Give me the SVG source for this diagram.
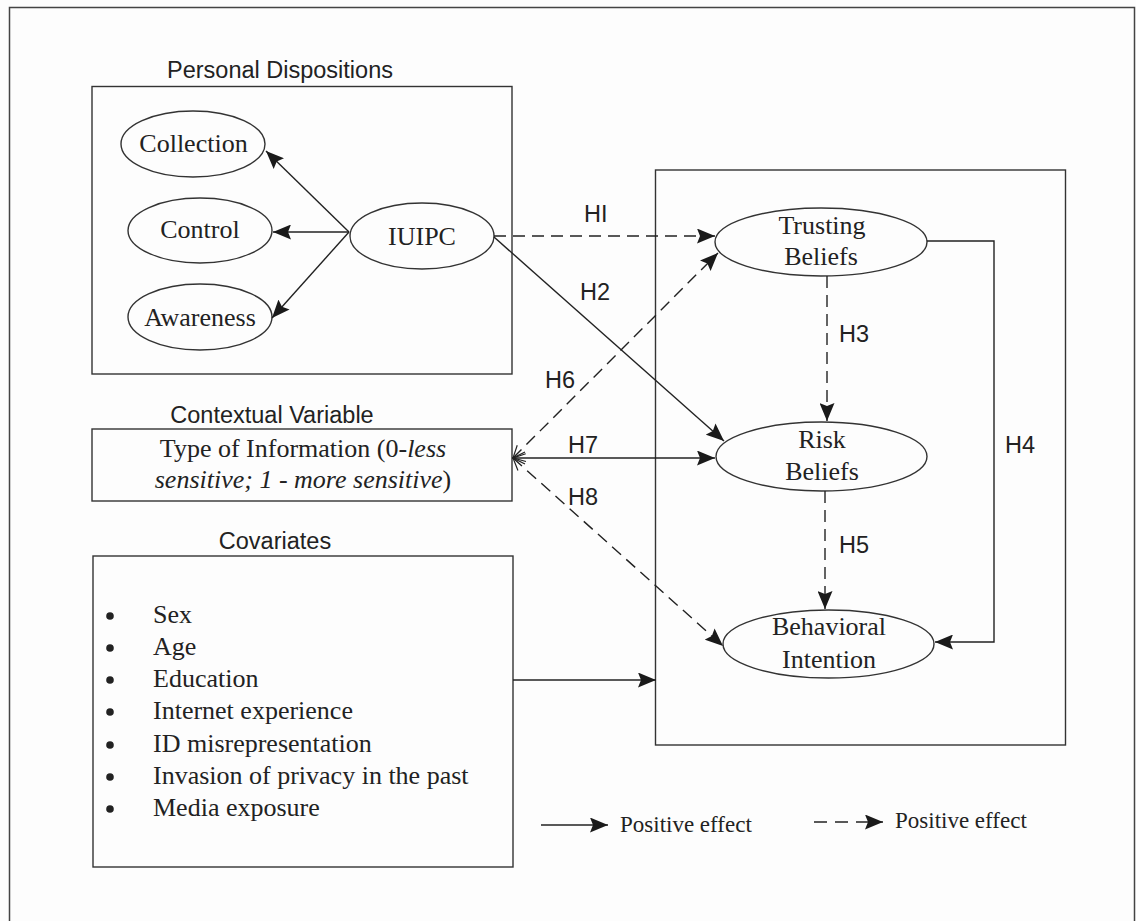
<svg xmlns="http://www.w3.org/2000/svg" width="1136" height="921" viewBox="0 0 1136 921">
<defs>
<style>
.bg{fill:#fdfdfd}
.frame{fill:none;stroke:#444;stroke-width:1.5}
.box{fill:none;stroke:#333;stroke-width:1.4}
.ell{fill:#fdfdfd;stroke:#333;stroke-width:1.4}
.ln{fill:none;stroke:#222;stroke-width:1.4}
.dash{fill:none;stroke:#222;stroke-width:1.4;stroke-dasharray:12 7}
.serif{font-family:"Liberation Serif","Times New Roman",serif;font-size:26px;fill:#222}
.sans{font-family:"Liberation Sans",Arial,sans-serif;font-size:23.5px;fill:#222}
.leg{font-family:"Liberation Serif","Times New Roman",serif;font-size:23px;fill:#222}
.mid{text-anchor:middle}
</style>
<marker id="ah" markerUnits="userSpaceOnUse" viewBox="0 0 18 15" refX="18" refY="7.5" markerWidth="18" markerHeight="15" orient="auto">
<path d="M0,0 L18,7.5 L0,15 L3,7.5 z" fill="#1a1a1a"/>
</marker>
<marker id="ao" markerUnits="userSpaceOnUse" viewBox="0 0 14 14" refX="1" refY="7" markerWidth="14" markerHeight="14" orient="auto">
<path d="M13,1 L1,7 L13,13" fill="none" stroke="#222" stroke-width="1.2"/>
</marker>
</defs>
<rect class="bg" x="0" y="0" width="1136" height="921"/>
<rect class="frame" x="9.5" y="7.5" width="1125" height="930"/>

<g id="personal-dispositions">
<text class="sans mid" x="280" y="78">Personal Dispositions</text>
<rect class="box" x="92" y="86.5" width="420" height="287.5"/>
</g>
<g id="collection">
<ellipse class="ell" cx="193" cy="144" rx="72" ry="33"/>
<text class="serif mid" x="193.5" y="152">Collection</text>
</g>
<g id="control">
<ellipse class="ell" cx="200" cy="230.5" rx="72" ry="32.5"/>
<text class="serif mid" x="200" y="238">Control</text>
</g>
<g id="awareness">
<ellipse class="ell" cx="200" cy="317" rx="72" ry="33"/>
<text class="serif mid" x="200" y="326">Awareness</text>
</g>
<g id="iuipc">
<ellipse class="ell" cx="422" cy="236" rx="72" ry="33"/>
<text class="serif mid" x="422" y="245">IUIPC</text>
</g>

<g id="contextual-variable">
<text class="sans mid" x="272" y="423">Contextual Variable</text>
<rect class="box" x="92" y="429" width="420" height="72"/>
<text class="serif mid" x="303" y="457">Type of Information (0-<tspan font-style="italic">less</tspan></text>
<text class="serif mid" x="303" y="488"><tspan font-style="italic">sensitive; 1 - more sensitive</tspan>)</text>
</g>

<g id="covariates">
<text class="sans mid" x="275" y="549">Covariates</text>
<rect class="box" x="93" y="556" width="420" height="311"/>
<g fill="#222">
<circle cx="110" cy="616" r="3.8"/>
<circle cx="110" cy="648" r="3.8"/>
<circle cx="110" cy="680" r="3.8"/>
<circle cx="110" cy="712" r="3.8"/>
<circle cx="110" cy="745" r="3.8"/>
<circle cx="110" cy="777" r="3.8"/>
<circle cx="110" cy="809" r="3.8"/>
</g>
<text class="serif" x="153" y="623">Sex</text>
<text class="serif" x="153" y="655">Age</text>
<text class="serif" x="153" y="687">Education</text>
<text class="serif" x="153" y="719">Internet experience</text>
<text class="serif" x="153" y="752">ID misrepresentation</text>
<text class="serif" x="153" y="784">Invasion of privacy in the past</text>
<text class="serif" x="153" y="816">Media exposure</text>
</g>

<g id="outcomes-box">
<rect class="box" x="655.5" y="170" width="410" height="575"/>
</g>
<g id="trusting-beliefs">
<ellipse class="ell" cx="821" cy="242" rx="106" ry="34"/>
<text class="serif mid" x="822" y="234">Trusting</text>
<text class="serif mid" x="821" y="265">Beliefs</text>
</g>
<g id="risk-beliefs">
<ellipse class="ell" cx="821.5" cy="456.5" rx="105.5" ry="34.5"/>
<text class="serif mid" x="822" y="448">Risk</text>
<text class="serif mid" x="822" y="480">Beliefs</text>
</g>
<g id="behavioral-intention">
<ellipse class="ell" cx="828.5" cy="644" rx="105.5" ry="34"/>
<text class="serif mid" x="829" y="635">Behavioral</text>
<text class="serif mid" x="829" y="668">Intention</text>
</g>

<g id="connectors">
<line class="ln" x1="349" y1="232" x2="266" y2="151" marker-end="url(#ah)"/>
<line class="ln" x1="349" y1="232" x2="273" y2="232" marker-end="url(#ah)"/>
<line class="ln" x1="349" y1="232" x2="272" y2="318" marker-end="url(#ah)"/>
<line class="dash" x1="494" y1="236" x2="715" y2="236" marker-end="url(#ah)"/>
<line class="ln" x1="494" y1="237" x2="724" y2="441" marker-end="url(#ah)"/>
<line class="dash" x1="827" y1="276" x2="827" y2="421" marker-end="url(#ah)"/>
<path class="ln" d="M927,241 H994 V642 H935" marker-end="url(#ah)"/>
<line class="dash" x1="825" y1="491" x2="825" y2="609" marker-end="url(#ah)"/>
<line class="dash" x1="513" y1="458" x2="718" y2="253" marker-start="url(#ao)" marker-end="url(#ah)"/>
<line class="ln" x1="513" y1="458" x2="715" y2="458" marker-start="url(#ao)" marker-end="url(#ah)"/>
<line class="dash" x1="513" y1="458" x2="723" y2="646" marker-start="url(#ao)" marker-end="url(#ah)"/>
<line class="ln" x1="513" y1="680" x2="656" y2="680" marker-end="url(#ah)"/>
</g>

<g id="hypothesis-labels">
<text class="sans" x="584" y="222">HI</text>
<text class="sans" x="580" y="300">H2</text>
<text class="sans" x="839" y="342">H3</text>
<text class="sans" x="1005" y="453">H4</text>
<text class="sans" x="839" y="553">H5</text>
<text class="sans" x="545" y="388">H6</text>
<text class="sans" x="568" y="453">H7</text>
<text class="sans" x="568" y="505">H8</text>
</g>

<g id="legend">
<line class="ln" x1="541" y1="825" x2="608" y2="825" marker-end="url(#ah)"/>
<text class="leg" x="620" y="832">Positive effect</text>
<line class="ln" x1="814" y1="822" x2="883" y2="822" stroke-dasharray="13 8" marker-end="url(#ah)"/>
<text class="leg" x="895" y="828">Positive effect</text>
</g>
</svg>
